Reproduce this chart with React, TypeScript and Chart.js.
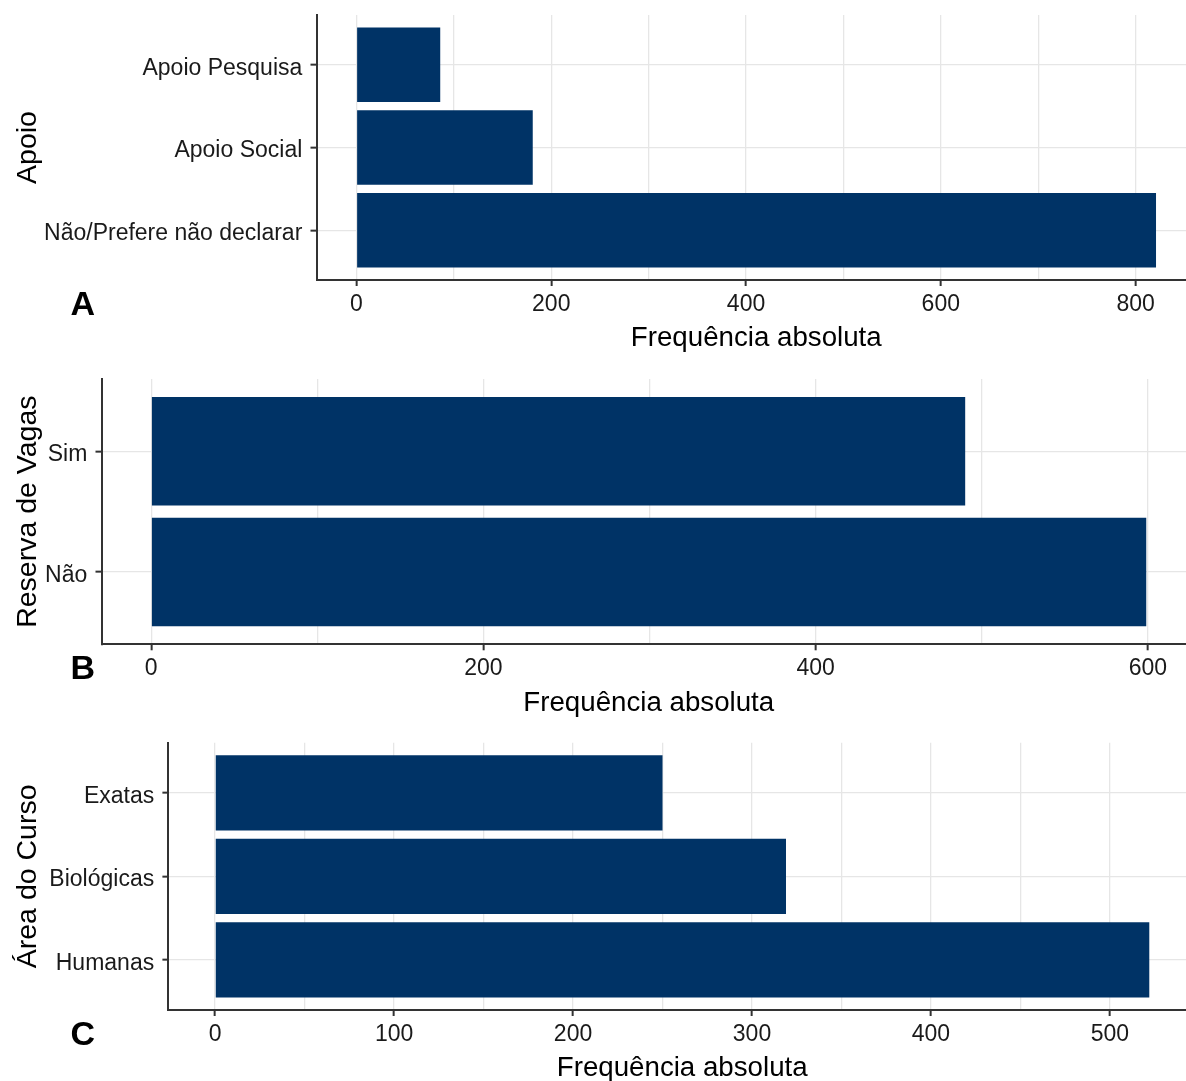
import React, { useEffect, useRef } from 'react';
import { Chart, registerables } from 'chart.js';

Chart.register(...registerables);

// ---------- data ----------
const apoioCategories = ['Não/Prefere não declarar', 'Apoio Social', 'Apoio Pesquisa'];
const apoioValues = [821, 181, 86];
const apoioMajorTicks = [0, 200, 400, 600, 800];
const apoioMinorTicks = [100, 300, 500, 700];

const reservaCategories = ['Não', 'Sim'];
const reservaValues = [599, 490];
const reservaMajorTicks = [0, 200, 400, 600];
const reservaMinorTicks = [100, 300, 500];

const areaCategories = ['Humanas', 'Biológicas', 'Exatas'];
const areaValues = [522, 319, 250];
const areaMajorTicks = [0, 100, 200, 300, 400, 500];
const areaMinorTicks = [50, 150, 250, 350, 450];

const xAxisTitle = 'Frequência absoluta';

// ---------- style ----------
const FONT = "'Liberation Sans', Arial, Helvetica, sans-serif";
const BAR = '#003366';
const GRID = '#e6e6e6';
const AXIS = '#333333';
const TICK_TEXT = '#1a1a1a';
const CANVAS_W = 1200;
const X_SCALE_H = 80;

type PanelCfg = {
  tag: string;
  yTitle: string;
  categories: string[];
  values: number[];
  major: number[];
  minor: number[];
  top: number;
  plotTop: number;
  plotBottom: number;
  axisLeft: number;
};

const panels: PanelCfg[] = [
  { tag: 'A', yTitle: 'Apoio', categories: apoioCategories, values: apoioValues, major: apoioMajorTicks, minor: apoioMinorTicks, top: 0, plotTop: 15, plotBottom: 280, axisLeft: 316.5 },
  { tag: 'B', yTitle: 'Reserva de Vagas', categories: reservaCategories, values: reservaValues, major: reservaMajorTicks, minor: reservaMinorTicks, top: 360, plotTop: 19, plotBottom: 284.3, axisLeft: 101.5 },
  { tag: 'C', yTitle: 'Área do Curso', categories: areaCategories, values: areaValues, major: areaMajorTicks, minor: areaMinorTicks, top: 720, plotTop: 22.7, plotBottom: 290, axisLeft: 168.4 },
];

const tagPlugin = {
  id: 'panelTag',
  afterDraw(chart: any, _args: any, opts: any) {
    const { ctx, chartArea } = chart;
    ctx.save();
    ctx.font = `bold ${opts.size}px ${FONT}`;
    ctx.fillStyle = '#000';
    ctx.textBaseline = 'alphabetic';
    ctx.textAlign = 'left';
    ctx.fillText(opts.text, opts.x, chartArea.bottom + opts.dy);
    ctx.restore();
  },
};

function Panel({ cfg }: { cfg: PanelCfg }) {
  const ref = useRef<HTMLCanvasElement | null>(null);
  const height = Math.ceil(cfg.plotBottom + X_SCALE_H);

  useEffect(() => {
    if (!ref.current) return;
    const maxVal = Math.max(...cfg.values);
    const allTicks = [...cfg.major, ...cfg.minor].sort((a, b) => a - b);
    const n = cfg.categories.length;
    const chart = new Chart(ref.current, {
      type: 'bar',
      data: {
        datasets: [
          {
            data: cfg.values.map((v, i) => ({ x: v, y: i + 1 })),
            backgroundColor: BAR,
            borderWidth: 0,
            barPercentage: 0.9,
            categoryPercentage: 1,
          } as any,
        ],
      },
      options: {
        indexAxis: 'y',
        animation: false,
        responsive: false,
        events: [],
        layout: {
          padding: {
            left: 0,
            right: CANVAS_W - 1196,
            top: cfg.plotTop,
            bottom: height - cfg.plotBottom - X_SCALE_H,
          },
        },
        plugins: {
          legend: { display: false },
          tooltip: { enabled: false },
          panelTag: { text: cfg.tag, size: 34, x: 70.5, dy: 35 },
        } as any,
        scales: {
          x: {
            type: 'linear',
            min: -0.05 * maxVal,
            max: 1.05 * maxVal,
            afterBuildTicks: (s: any) => {
              s.ticks = allTicks.map((v) => ({ value: v }));
            },
            afterFit: (s: any) => {
              s.height = X_SCALE_H;
              s.paddingLeft = 0;
              s.paddingRight = 0;
            },
            ticks: {
              autoSkip: false,
              maxRotation: 0,
              padding: 5,
              color: TICK_TEXT,
              font: { family: FONT, size: 23 },
              callback: (v: any) => (cfg.major.includes(Number(v)) ? String(v) : ''),
            },
            grid: {
              color: GRID,
              lineWidth: 1.3,
              tickLength: 6,
              tickWidth: 2,
              tickColor: (ctx: any) =>
                ctx.tick && cfg.major.includes(ctx.tick.value) ? AXIS : 'rgba(0,0,0,0)',
            },
            border: { display: true, color: AXIS, width: 2 },
            title: {
              display: true,
              text: xAxisTitle,
              color: '#000',
              font: { family: FONT, size: 27.7 },
              padding: { top: 0, bottom: 4.7 },
            },
          },
          y: {
            type: 'linear',
            min: 0.4,
            max: n + 0.6,
            offset: false,
            afterBuildTicks: (s: any) => {
              s.ticks = cfg.categories.map((_c, i) => ({ value: i + 1 }));
            },
            afterFit: (s: any) => {
              s.width = cfg.axisLeft;
              s.paddingTop = 0;
              s.paddingBottom = 0;
            },
            ticks: {
              autoSkip: false,
              padding: 8.2,
              labelOffset: 3.5,
              color: TICK_TEXT,
              font: { family: FONT, size: 23 },
              callback: (v: any) => cfg.categories[Number(v) - 1] ?? '',
            },
            grid: {
              offset: false,
              color: GRID,
              lineWidth: 1.3,
              tickLength: 6,
              tickWidth: 2,
              tickColor: AXIS,
            },
            border: { display: true, color: AXIS, width: 2 },
            title: {
              display: true,
              text: cfg.yTitle,
              color: '#000',
              font: { family: FONT, size: 28.5 },
              padding: { top: 11.5, bottom: 0 },
            },
          },
        },
      } as any,
      plugins: [tagPlugin],
    });
    return () => chart.destroy();
  }, []);

  return (
    <canvas
      ref={ref}
      width={CANVAS_W}
      height={height}
      style={{ position: 'absolute', left: 0, top: cfg.top, display: 'block' }}
    />
  );
}

export default function App() {
  return (
    <div
      style={{
        position: 'fixed',
        left: 0,
        top: 0,
        width: 1186,
        height: 1081,
        overflow: 'hidden',
        background: '#ffffff',
      }}
    >
      {panels.map((p) => (
        <Panel key={p.tag} cfg={p} />
      ))}
    </div>
  );
}
